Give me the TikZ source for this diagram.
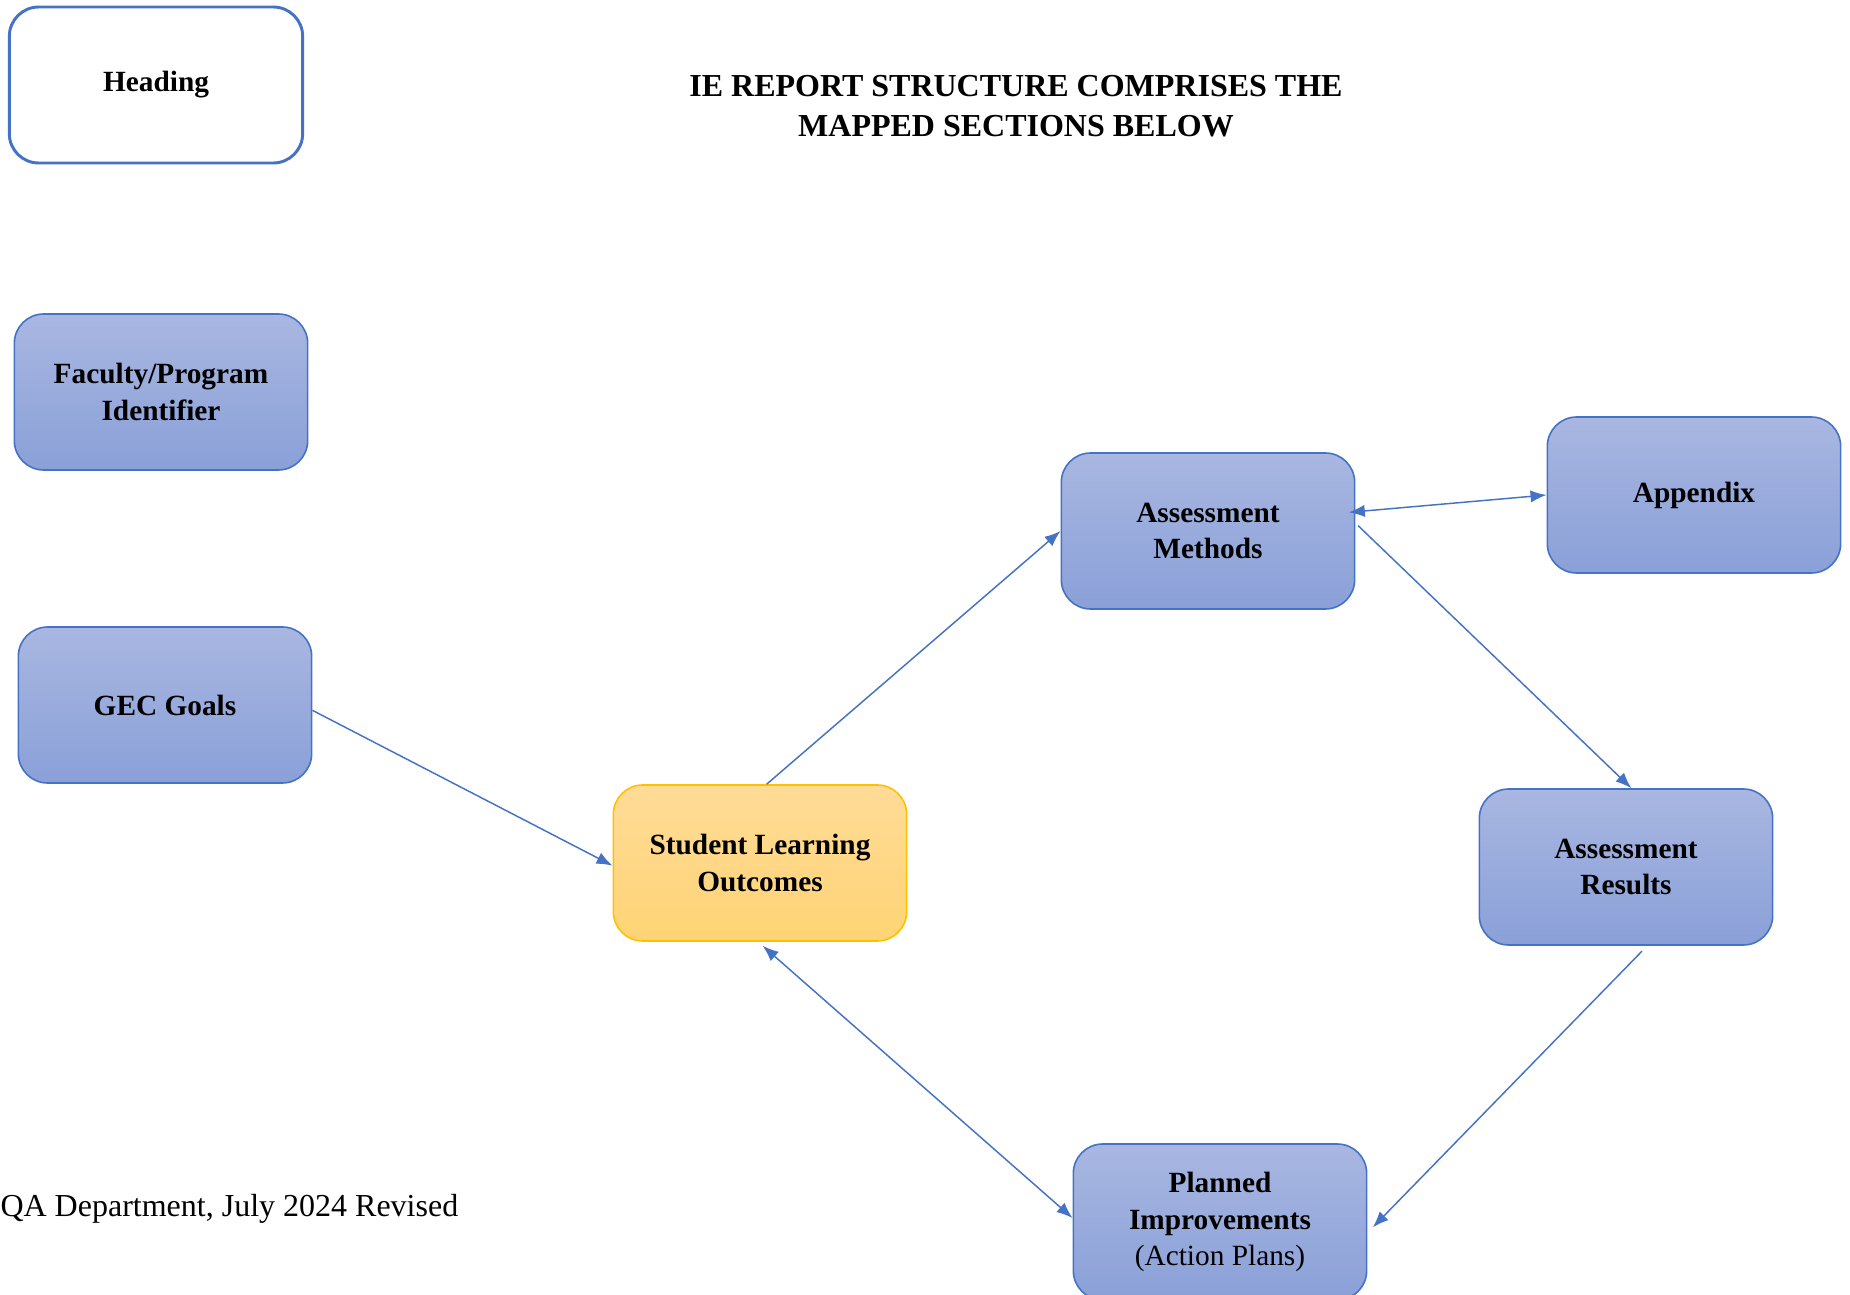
\documentclass[tikz,border=0pt]{standalone}
\usepackage{fontspec}
\setmainfont{Liberation Serif}
\usetikzlibrary{arrows.meta}

\definecolor{boxline}{HTML}{4472C4}
\definecolor{boxtop}{HTML}{A9B7E1}
\definecolor{boxbot}{HTML}{8AA0D8}
\definecolor{slotop}{HTML}{FFDB97}
\definecolor{slobot}{HTML}{FFD475}
\definecolor{sloline}{HTML}{FFC000}

\tikzset{
	secbox/.style={draw=boxline, line width=0.6pt, rounded corners=11pt, top color=boxtop, bottom color=boxbot,
		minimum width=110pt, minimum height=58.5pt, inner sep=0pt, align=center,
		font=\fontsize{11}{13.6}\selectfont\bfseries},
	slobox/.style={secbox, draw=sloline, top color=slotop, bottom color=slobot},
	headbox/.style={secbox, draw=boxline, line width=1.1pt, top color=white, bottom color=white},
	link/.style={draw=boxline, line width=0.55pt, -{Latex[length=6pt,width=4.6pt]}},
	twolink/.style={link, {Latex[length=6pt,width=4.6pt]}-{Latex[length=6pt,width=4.6pt]}}
}

\begin{document}
\begin{tikzpicture}[x=0.375pt,y=-0.375pt]
		\useasboundingbox (0,0) rectangle (1850,1295);
		%title and footer
		\node[align=center, font=\fontsize{12}{15}\selectfont\bfseries] (title) at (1016,106) {IE REPORT STRUCTURE COMPRISES THE\\MAPPED SECTIONS BELOW};
		\node[anchor=base west, inner sep=0pt, font=\fontsize{12}{14}\selectfont] (footer) at (0,1216) {QA Department, July 2024 Revised};
		%left column
		\node[headbox] (heading) at (156,85) {Heading};
		\node[secbox] (faculty) at (161,392) {Faculty/Program\\Identifier};
		\node[secbox] (gec) at (165,705) {GEC Goals};
		%cycle
		\node[slobox] (slo) at (760,863) {Student Learning\\Outcomes};
		\node[secbox] (am) at (1208,531) {Assessment\\Methods};
		\node[secbox] (appendix) at (1694,495) {Appendix};
		\node[secbox] (results) at (1626,867) {Assessment\\Results};
		\node[secbox] (planned) at (1220,1222) {Planned\\Improvements\\{\mdseries (Action Plans)}};
		%connectors
		\draw[link] ([yshift=-2pt]gec.east) -- ([yshift=-1pt]slo.west);
		\draw[link] ([xshift=2.5pt]slo.north) -- (am.west);
		\draw[twolink] ([xshift=-2.5pt,yshift=7pt]am.east) -- (appendix.west);
		\draw[link] ([xshift=1pt,yshift=2pt]am.east) -- ([xshift=2pt]results.north);
		\draw[link] ([xshift=6pt,yshift=-2pt]results.south) -- ([xshift=2pt,yshift=-2pt]planned.east);
		\draw[twolink] ([yshift=1.5pt]planned.west) -- ([xshift=1pt,yshift=-1.5pt]slo.south);
	\end{tikzpicture}
\end{document}
